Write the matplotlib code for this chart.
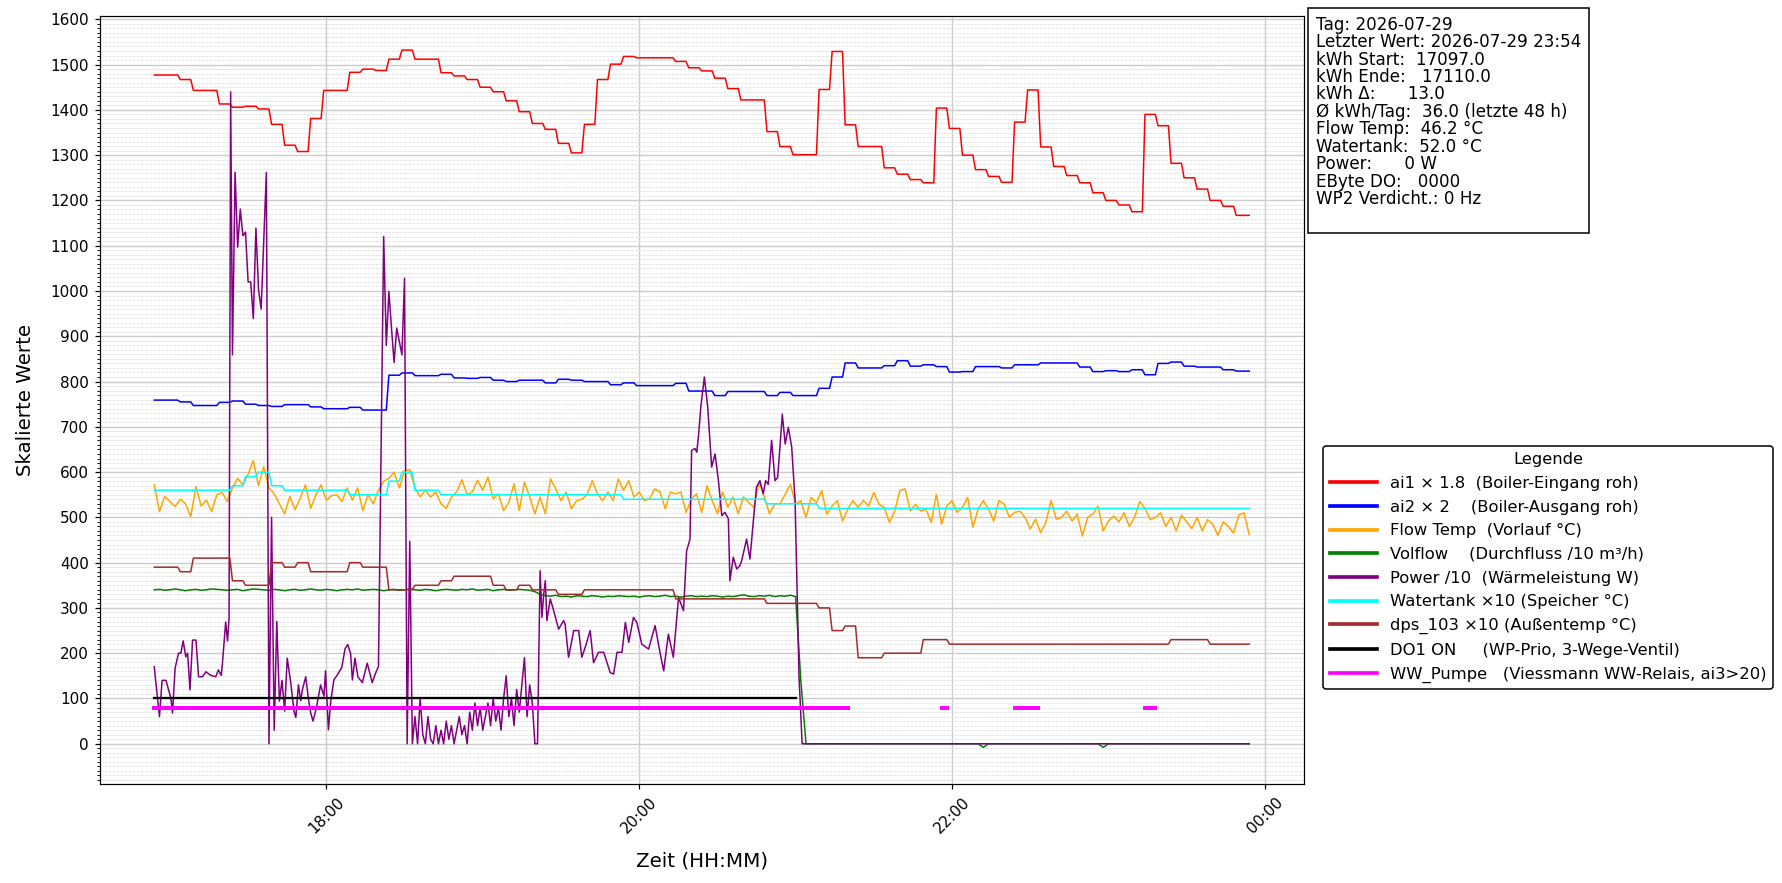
import numpy as np
import matplotlib
matplotlib.use("Agg")
import matplotlib.pyplot as plt
import matplotlib.dates as mdates
from matplotlib.ticker import MultipleLocator, NullLocator
from datetime import datetime

# ---------------- data ----------------
START = datetime(2026, 7, 29, 16, 54)
END_MIN = 420

# 5-minute blocks (values hold for 5 one-minute samples)
ai1_x18 = [1477, 1477, 1467, 1443, 1443, 1413, 1406, 1408, 1402, 1368,
           1322, 1308, 1381, 1443, 1443, 1483, 1490, 1487, 1512, 1532,
           1512, 1512, 1482, 1475, 1467, 1450, 1440, 1420, 1396, 1370,
           1357, 1326, 1305, 1368, 1467, 1501, 1518, 1515, 1515, 1515,
           1507, 1493, 1486, 1470, 1447, 1422, 1422, 1352, 1319, 1301,
           1301, 1445, 1529, 1367, 1319, 1319, 1272, 1258, 1246, 1239,
           1404, 1359, 1300, 1268, 1253, 1240, 1373, 1444, 1318, 1275,
           1255, 1239, 1217, 1200, 1190, 1175, 1390, 1365, 1282, 1250,
           1225, 1200, 1187, 1167, 1167]
ai2_x2 = [759, 759, 755, 747, 747, 754, 757, 750, 747, 745,
          749, 749, 744, 740, 740, 743, 737, 737, 814, 819,
          813, 813, 816, 808, 807, 809, 803, 800, 803, 803,
          797, 805, 803, 800, 800, 793, 797, 791, 791, 791,
          796, 779, 779, 769, 778, 778, 778, 769, 776, 769,
          769, 785, 810, 841, 830, 830, 835, 846, 834, 837,
          833, 821, 822, 833, 833, 830, 837, 837, 841, 841,
          841, 832, 822, 824, 822, 826, 815, 840, 843, 834,
          832, 832, 826, 823, 823]
watertank_x10 = [560, 560, 560, 560, 560, 560, 570, 590, 600, 570,
                 560, 560, 560, 560, 560, 550, 550, 550, 580, 600,
                 560, 560, 550, 550, 550, 550, 550, 550, 550, 550,
                 550, 550, 550, 550, 550, 550, 540, 540, 540, 540,
                 540, 540, 540, 540, 540, 540, 540, 530, 530, 530,
                 530, 520, 520, 520, 520, 520, 520, 520, 520, 520,
                 520, 520, 520, 520, 520, 520, 520, 520, 520, 520,
                 520, 520, 520, 520, 520, 520, 520, 520, 520, 520,
                 520, 520, 520, 520, 520]
dps103_x10 = [390, 390, 380, 410, 410, 410, 360, 350, 350, 400,
              390, 400, 380, 380, 380, 400, 390, 390, 340, 340,
              350, 350, 360, 370, 370, 370, 350, 340, 350, 340,
              340, 330, 330, 340, 340, 340, 340, 340, 340, 340,
              320, 320, 320, 320, 320, 320, 320, 310, 310, 310,
              310, 300, 250, 260, 190, 190, 200, 200, 200, 230,
              230, 220, 220, 220, 220, 220, 220, 220, 220, 220,
              220, 220, 220, 220, 220, 220, 220, 220, 230, 230,
              230, 220, 220, 220, 220]

# 2-minute samples
flow_temp = [572, 513, 546, 535, 524, 540, 530, 502, 568, 525, 538, 513, 550, 555, 535, 565, 586, 572, 595, 625,
             570, 612, 565, 552, 530, 508, 546, 517, 542, 572, 520, 550, 572, 538, 548, 550, 535, 565, 538, 565,
             515, 550, 530, 560, 580, 586, 600, 565, 603, 605, 565, 545, 560, 545, 556, 530, 520, 545, 556, 583,
             550, 556, 582,
             560, 589, 541, 552, 515, 533, 574, 515, 578, 545, 508, 545, 508, 585, 563, 537, 556, 519, 537, 540,
             550, 581, 552, 537, 556, 537, 585, 560, 581, 545, 556, 537, 541, 563, 556, 519, 556, 552, 556, 511,
             540, 552, 511, 570, 537, 508, 556, 522, 545, 508, 545, 533, 522, 578, 545, 508, 530,
             530, 551, 573, 529, 537, 500, 544, 533, 559, 507, 525, 537, 492, 518, 537, 522, 537, 525, 555, 529,
             522, 489, 514, 559, 563, 514, 529, 514, 518, 489, 551, 485, 525, 537, 511, 522, 544, 478, 518, 537,
             518, 492, 537, 529, 500, 511, 514, 500, 474, 496, 466, 489, 537, 496, 500, 514, 492, 507, 459, 500,
             507, 525, 470, 492, 503,
             490, 510, 480, 500, 535, 520, 495, 500, 510, 480, 500, 470, 505, 490, 475, 500, 470, 495, 485, 460,
             490, 480, 465, 505, 510, 462]
volflow_x10 = [340, 341, 339, 340, 342, 340, 338, 340, 341, 339, 340, 342, 341, 340, 339, 340, 341, 338, 340, 342,
               341, 340, 339, 341, 340, 338, 340, 341, 339, 340, 342, 340, 339, 341, 340, 338, 340, 341, 340, 342,
               339, 340, 341, 340, 338, 340, 341, 339, 340, 342, 340, 339, 341, 340, 338, 340, 341, 340, 339, 341,
               340, 342, 339, 340, 341, 338, 340, 341, 339, 340, 341, 340, 339,
               336, 330, 327, 326, 328, 325, 326, 324, 327, 326, 325, 327, 326, 324, 326, 325, 327, 326, 325, 326,
               324, 326, 327, 325, 326, 328, 325, 326, 324, 326, 327, 325, 326, 325, 327, 326, 324, 326, 325, 327,
               329, 326, 325, 327, 326, 328, 325, 327, 326, 328, 325,
               140, 0,
               0, 0, 0, 0, 0, 0, 0, 0, 0, 0, 0, 0, 0, 0, 0, 0, 0, 0, 0, 0,
               0, 0, 0, 0, 0, 0, 0, 0, 0, 0, 0, 0, 0, -8, 0, 0, 0, 0, 0, 0,
               0, 0, 0, 0, 0, 0, 0, 0, 0, 0, 0, 0, 0, 0, 0, 0, -8, 0, 0, 0,
               0, 0, 0, 0, 0, 0, 0, 0, 0, 0, 0, 0, 0, 0, 0, 0, 0, 0, 0, 0,
               0, 0, 0, 0, 0]

# Power /10 (irregular samples, minutes after start)
power_t = [0, 2, 3, 4.5, 6.4, 7, 8, 9.3, 10.2, 11.1, 12.1, 12.8, 13.7, 14.7, 16, 17, 18.5, 19.8, 21.7, 23.6,
           24.6, 25.7, 26.2, 27.4, 28.1, 28.7, 29.3, 30, 31, 32, 33, 34, 35, 36, 37, 38, 39, 40, 41, 42,
           43, 44, 45, 46, 47, 48, 49, 50, 51, 52.3, 53.6, 54.3, 55.3, 56.2, 56.8, 58.1, 59.1, 60, 60.9, 62.2,
           63.8, 65.1, 65.7, 66.8, 67.7, 68.9, 70.2, 71.9, 73.2, 74.2, 75.3, 76, 77, 78.1, 79.8, 81.7, 83.6, 85.1, 86, 88,
           89, 90, 91, 92, 93, 95, 96, 97, 98, 99,
           100, 101, 102, 103, 104, 105, 106, 107, 108, 109, 110, 111, 112, 113, 114, 115, 116, 117, 118, 119,
           120, 121, 122, 123, 124, 125, 126, 127, 128, 129, 130, 131, 132, 133, 134, 135, 136, 137, 138, 139,
           140, 141, 142, 143, 144, 145, 146, 147,
           148, 148.7, 149.4, 150, 150.6, 151.9, 153.2, 155.1, 157, 157.6, 158.9, 160.9, 162.8, 164, 165.3, 167.2,
           168.5, 170.4, 172.4, 174.9, 176.2, 177.5, 179.4, 180.7, 182, 183.8, 185.1, 187, 189.6, 192.1, 194.1, 195.4,
           197.2, 199.1, 201.1, 203, 204.2, 205.5, 206.1, 207.4, 208.1, 208.7, 209.7, 211, 212.3, 213.8, 215.1, 216.4,
           217.7, 218.9, 220.2, 220.8, 222.1, 223.4, 224.6, 225.3, 227.2, 228.5, 229.8, 231, 232.3, 233.6, 234.5, 235.5,
           236.8, 238.1, 239.1, 240, 240.9, 242, 243.2, 244.5, 245.8, 247.3, 248.5, 420]
power_div10 = [170, 60, 140, 140, 100, 68, 167, 200, 200, 227, 192, 200, 119, 229, 229, 148, 148, 159, 151, 148,
               163, 151, 181, 269, 227, 277, 1440, 859, 1262, 1097, 1181, 1122, 1130, 1020, 1020, 939, 1139, 1003, 960, 1113,
               1262, 0, 500, 30, 270, 94, 140, 72, 189, 137, 72, 58, 130, 95, 119, 148, 101, 68, 50, 80,
               130, 105, 161, 31, 94, 141, 152, 168, 210, 219, 200, 141, 189, 148, 135, 178, 135, 159, 170, 1120,
               880, 999, 918, 842, 918, 859, 1028, 0, 447, 0,
               60, 0, 100, 20, 0, 60, 10, 0, 40, 0, 30, 0, 50, 10, 40, 0, 30, 60, 20, 40,
               0, 70, 30, 90, 40, 80, 30, 60, 90, 40, 100, 50, 80, 30, 100, 150, 60, 100, 40, 120,
               70, 130, 190, 60, 130, 90, 0, 0,
               382, 279, 331, 360, 272, 320, 294, 253, 272, 264, 191, 250, 250, 191, 213, 250,
               179, 202, 202, 157, 154, 202, 202, 268, 224, 279, 268, 220, 209, 261, 198, 161,
               242, 191, 323, 294, 426, 452, 648, 652, 644, 677, 747, 810, 743, 611, 640, 581,
               504, 511, 497, 360, 412, 386, 393, 404, 452, 408, 493, 567, 581, 552, 581, 573,
               670, 581, 588, 655, 728, 662, 699, 655, 537, 150, 0, 0]

# on-intervals (minutes after start)
do1_on = [(0, 246)]
ww_pumpe_on = [(0, 266), (302, 304), (330, 339), (380, 384)]
DO1_LEVEL = 100
WW_LEVEL = 80

info_lines = ["Tag: 2026-07-29",
              "Letzter Wert: 2026-07-29 23:54",
              "kWh Start:  17097.0",
              "kWh Ende:   17110.0",
              "kWh \u0394:      13.0",
              "\u00d8 kWh/Tag:  36.0 (letzte 48 h)",
              "Flow Temp:  46.2 \u00b0C",
              "Watertank:  52.0 \u00b0C",
              "Power:      0 W",
              "EByte DO:   0000",
              "WP2 Verdicht.: 0 Hz"]

labels = ["ai1 \u00d7 1.8  (Boiler-Eingang roh)",
          "ai2 \u00d7 2    (Boiler-Ausgang roh)",
          "Flow Temp  (Vorlauf \u00b0C)",
          "Volflow    (Durchfluss /10 m\u00b3/h)",
          "Power /10  (W\u00e4rmeleistung W)",
          "Watertank \u00d710 (Speicher \u00b0C)",
          "dps_103 \u00d710 (Au\u00dfentemp \u00b0C)",
          "DO1 ON     (WP-Prio, 3-Wege-Ventil)",
          "WW_Pumpe   (Viessmann WW-Relais, ai3>20)"]

# ---------------- helpers ----------------
t1 = np.arange(0, END_MIN + 1)
t2 = np.arange(0, END_MIN + 1, 2)
base = mdates.date2num(START)


def tx(minutes):
    return base + np.asarray(minutes, dtype=float) / 1440.0


def blocks(vals):
    return np.repeat(np.asarray(vals, dtype=float), 5)[:END_MIN + 1]


def on_series(intervals, level):
    out = np.full(t1.shape, np.nan)
    for a, b in intervals:
        out[(t1 >= a) & (t1 <= b)] = level
    return out


# ---------------- figure ----------------
DPI = 110
fig = plt.figure(figsize=(1782 / DPI, 883 / DPI), dpi=DPI)
ax = fig.add_axes([99.5 / 1782, 1 - 783.6 / 883, (1304 - 99.5) / 1782, (783.6 - 15.7) / 883])

lw = 1.0
ax.plot(tx(t1), blocks(ai1_x18), color="red", lw=lw, label=labels[0])
ax.plot(tx(t1), blocks(ai2_x2), color="blue", lw=lw, label=labels[1])
ax.plot(tx(t2), flow_temp, color="orange", lw=lw, label=labels[2])
ax.plot(tx(t2), volflow_x10, color="green", lw=lw, label=labels[3])
ax.plot(tx(power_t), power_div10, color="purple", lw=lw, label=labels[4])
ax.plot(tx(t1), blocks(watertank_x10), color="cyan", lw=lw, label=labels[5])
ax.plot(tx(t1), blocks(dps103_x10), color="brown", lw=lw, label=labels[6])
ax.plot(tx(t1), on_series(do1_on, DO1_LEVEL), color="black", lw=1.5, label=labels[7])
ax.plot(tx(t1), on_series(ww_pumpe_on, WW_LEVEL), color="magenta", lw=2.6, label=labels[8])

ax.set_ylim(-88, 1608)

ax.xaxis.set_major_locator(mdates.HourLocator(byhour=range(0, 24, 2)))
ax.xaxis.set_major_formatter(mdates.DateFormatter("%H:%M"))
ax.xaxis.set_minor_locator(NullLocator())
ax.yaxis.set_major_locator(MultipleLocator(100))
ax.yaxis.set_minor_locator(MultipleLocator(10))
ax.tick_params(axis="both", which="major", labelsize=10)
plt.setp(ax.get_xticklabels(), rotation=45)

ax.grid(True, which="major", color="#cccccc", linewidth=0.9)
ax.grid(True, which="minor", axis="y", color="#dddddd", linestyle="--", linewidth=0.5)
ax.set_axisbelow(True)

ax.set_xlabel("Zeit (HH:MM)", fontsize=13, labelpad=10)
ax.set_ylabel("Skalierte Werte", fontsize=13, labelpad=10)

ax.text(1.01, 1.0, "\n".join(info_lines) + "\n", transform=ax.transAxes,
        va="top", ha="left", fontsize=11, linespacing=0.96,
        bbox=dict(boxstyle="square,pad=0.45", facecolor="white", edgecolor="black", linewidth=1.0))

leg = ax.legend(loc="upper left", bbox_to_anchor=(1.0158, 0.440), borderaxespad=0,
                fontsize=10.7, title="Legende", title_fontsize=10.7, handlelength=2.9,
                labelspacing=0.53, framealpha=1, edgecolor="black", fancybox=True)
for h in leg.get_lines():
    h.set_linewidth(2.4)

fig.savefig("out.png", dpi=DPI)
